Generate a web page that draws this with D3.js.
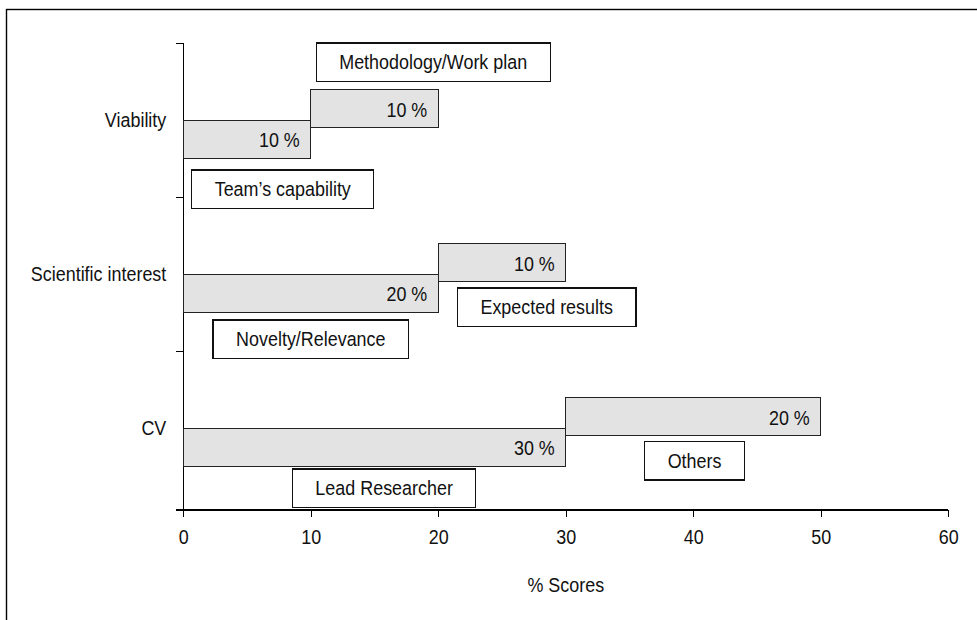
<!DOCTYPE html>
<html lang="en">
<head>
    <meta charset="UTF-8">
    <title>% Scores</title>
    <script src="https://d3js.org/d3.v7.min.js"></script>
</head>
<style>
    body {
     margin: 0;
     background: #fff;
    }
    svg text {
     font-family: "Liberation Sans Narrow", "Liberation Sans", Arial, sans-serif;
     font-size: 19.5px;
     fill: #111;
    }
    .axis path,
    .axis line {
     fill: none;
     stroke: #000;
     stroke-width: 1.3;
     shape-rendering: crispEdges;
    }
    .bar {
     fill: #e3e3e3;
     stroke: #222;
     stroke-width: 1;
     shape-rendering: crispEdges;
    }
    .callout rect {
     fill: #fff;
     stroke: #111;
     stroke-width: 1.2;
     shape-rendering: crispEdges;
    }
</style>
<body>
<script type="text/javascript">
    // data
    var categories = ["Viability", "Scientific interest", "CV"];
    var firstPart = [10, 20, 30];
    var secondPart = [10, 10, 20];
    var firstNames = ["Team\u2019s capability", "Novelty/Relevance", "Lead Researcher"];
    var secondNames = ["Methodology/Work plan", "Expected results", "Others"];
    var xTicks = [0, 10, 20, 30, 40, 50, 60];

    // where the name boxes sit: centre in score units, top offset from row centre
    var firstBoxAt = [[7.8, 50], [10, 46], [15.75, 41]];
    var secondBoxAt = [[19.6, -77], [28.5, 14], [40.1, 13.5]];

    var W = 977, H = 620;
    var plotLeft = 183.3, plotRight = 948.3, plotTop = 43, plotBottom = 510;
    var barH = 38.4;
    var squeeze = 0.92;   // the figure uses a condensed face

    var svg = d3.select("body").append("svg")
        .attr("width", W)
        .attr("height", H);

    // put a text at (px, py) and narrow it
    function place(sel, px, py) {
        sel.attr("x", 0).attr("y", 0)
            .attr("transform", function(d, i) {
                return "translate(" + px(d, i) + "," + py(d, i) + ") scale(" + squeeze + ",1)";
            });
    }

    // frame of the figure
    svg.append("rect")
        .attr("x", 6.5).attr("y", 9.5)
        .attr("width", 1000).attr("height", 700)
        .attr("fill", "none")
        .attr("stroke", "#000")
        .attr("stroke-width", 1.4);

    var x = d3.scaleLinear().domain([0, 60]).range([plotLeft, plotRight]);
    var y = d3.scaleBand().domain(categories).range([plotTop, plotBottom - 5]);
    var yEdge = d3.scaleLinear().domain([0, categories.length]).range(y.range());

    // x axis
    var xAxis = d3.axisBottom(x)
        .tickValues(xTicks)
        .tickSize(7)
        .tickSizeOuter(0)
        .tickPadding(13);
    var gx = svg.append("g")
        .attr("class", "x axis")
        .attr("transform", "translate(0," + plotBottom + ")")
        .call(xAxis);
    gx.select(".domain").remove();
    gx.append("line")
        .attr("x1", plotLeft - 7).attr("x2", plotRight);
    gx.selectAll("text")
        .style("font-size", "19.5px")
        .attr("fill", "#111")
        .attr("transform", "scale(" + squeeze + ",1)");

    // y axis
    var yAxis = d3.axisLeft(yEdge)
        .tickValues(d3.range(categories.length))
        .tickSize(7)
        .tickSizeOuter(0)
        .tickFormat("");
    var gy = svg.append("g")
        .attr("class", "y axis")
        .attr("transform", "translate(" + plotLeft + ",0)")
        .call(yAxis);
    gy.select(".domain").remove();
    gy.append("line")
        .attr("y1", plotTop).attr("y2", plotBottom + 7);

    svg.selectAll(".cat")
        .data(categories)
        .enter().append("text")
        .attr("class", "cat")
        .attr("dy", "0.35em")
        .attr("text-anchor", "end")
        .text(function(d) { return d; })
        .call(place, function() { return plotLeft - 17; },
                     function(d) { return y(d) + y.bandwidth() / 2; });

    // axis title
    svg.append("text")
        .attr("dy", "0.35em")
        .attr("text-anchor", "middle")
        .text("% Scores")
        .call(place, function() { return (plotLeft + plotRight) / 2; },
                     function() { return 585; });

    var rows = categories.map(function(c, i) {
        return {cat: c, a: firstPart[i], b: secondPart[i],
                na: firstNames[i], nb: secondNames[i],
                pa: firstBoxAt[i], pb: secondBoxAt[i]};
    });
    function mid(d) { return y(d.cat) + y.bandwidth() / 2; }

    // first segment, from zero
    svg.selectAll(".barA")
        .data(rows)
        .enter().append("rect")
        .attr("class", "bar")
        .attr("x", function(d) { return x(0); })
        .attr("y", function(d) { return mid(d); })
        .attr("width", function(d) { return x(d.a) - x(0); })
        .attr("height", barH);

    // second segment, stacked after the first, raised a little
    svg.selectAll(".barB")
        .data(rows)
        .enter().append("rect")
        .attr("class", "bar")
        .attr("x", function(d) { return x(d.a); })
        .attr("y", function(d) { return mid(d) - 30.5; })
        .attr("width", function(d) { return x(d.a + d.b) - x(d.a); })
        .attr("height", barH);

    svg.selectAll(".valA")
        .data(rows)
        .enter().append("text")
        .attr("dy", "0.35em")
        .attr("text-anchor", "end")
        .text(function(d) { return d.a + " %"; })
        .call(place, function(d) { return x(d.a) - 11; },
                     function(d) { return mid(d) + barH / 2 + 1; });

    svg.selectAll(".valB")
        .data(rows)
        .enter().append("text")
        .attr("dy", "0.35em")
        .attr("text-anchor", "end")
        .text(function(d) { return d.b + " %"; })
        .call(place, function(d) { return x(d.a + d.b) - 11; },
                     function(d) { return mid(d) - 30.5 + barH / 2 + 1; });

    // name boxes
    var boxes = [];
    rows.forEach(function(d) {
        boxes.push({name: d.na, cx: d.pa[0], top: mid(d) + d.pa[1]});
        boxes.push({name: d.nb, cx: d.pb[0], top: mid(d) + d.pb[1]});
    });

    var callout = svg.selectAll(".callout")
        .data(boxes)
        .enter().append("g")
        .attr("class", "callout");
    var rect = callout.append("rect");
    var label = callout.append("text")
        .attr("dy", "0.35em")
        .attr("text-anchor", "middle")
        .text(function(d) { return d.name; })
        .call(place, function(d) { return x(d.cx); },
                     function(d) { return d.top + barH / 2; });
    rect.each(function(d, i) {
        var w = label.nodes()[i].getComputedTextLength() * squeeze + 46;
        d3.select(this)
            .attr("x", x(d.cx) - w / 2)
            .attr("y", d.top)
            .attr("width", w)
            .attr("height", barH);
    });
</script>
</body>
</html>
